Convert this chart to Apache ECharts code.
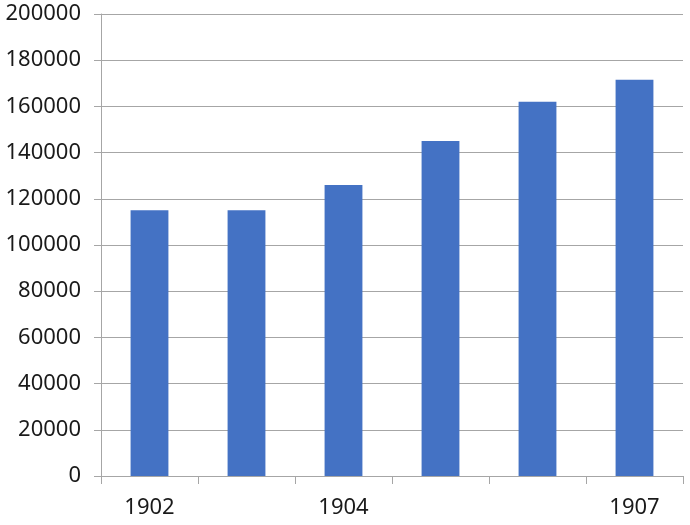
<!DOCTYPE html>
<html><head><meta charset="utf-8">
<script src="https://cdn.jsdelivr.net/npm/echarts@6/dist/echarts.min.js"></script>
<style>html,body{margin:0;padding:0;background:#fff}#c{width:690px;height:525px}</style>
</head><body><div id="c"></div>
<script>
const categories = ['1902', '1903', '1904', '1905', '1906', '1907'];
const shownLabels = ['1902', '1904', '1907'];
const values = [115000, 115000, 126000, 145000, 162000, 171500];
const yTicks = [0, 20000, 40000, 60000, 80000, 100000, 120000, 140000, 160000, 180000, 200000];

const chart = echarts.init(document.getElementById('c'));
chart.setOption({
  animation: false,
  grid: { left: 101, right: 7, top: 14, bottom: 49, containLabel: false },
  xAxis: {
    type: 'category',
    data: categories,
    axisLine: { lineStyle: { color: '#a6a6a6', width: 1 } },
    axisTick: { show: true, length: 8, alignWithLabel: false, interval: 0, lineStyle: { color: '#a6a6a6' } },
    axisLabel: {
      interval: 0,
      margin: 21,
      color: '#1a1a1a',
      fontFamily: 'Noto Sans',
      fontSize: 22,
      formatter: v => shownLabels.includes(v) ? v : ''
    }
  },
  yAxis: {
    type: 'value',
    min: yTicks[0],
    max: yTicks[yTicks.length - 1],
    interval: yTicks[1] - yTicks[0],
    axisLine: { show: true, lineStyle: { color: '#a6a6a6', width: 1 } },
    axisTick: { show: true, inside: false, length: 7, lineStyle: { color: '#a6a6a6', width: 1 } },
    splitLine: { lineStyle: { color: '#a6a6a6', width: 1 } },
    axisLabel: {
      margin: 20,
      color: '#1a1a1a',
      fontFamily: 'Noto Sans',
      fontSize: 22,
      formatter: v => String(v)
    }
  },
  series: [{
    type: 'bar',
    data: values,
    barWidth: '39%',
    itemStyle: { color: '#4472c4' }
  }]
});
</script></body></html>
